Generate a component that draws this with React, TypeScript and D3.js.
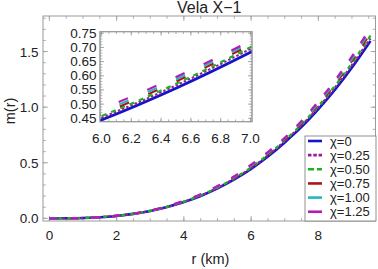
import React, { useEffect, useRef } from 'react';
// @ts-ignore
import * as d3 from 'd3';

// radius grid (km) and mass profiles
const radius = [0, 0.5, 1, 1.5, 2, 2.5, 3, 3.5, 4, 4.5, 5, 5.5, 6, 6.5, 7, 7.5, 8, 8.5, 9, 9.55];
const massChi000 = [0, 0.0005, 0.0032, 0.0098, 0.0217, 0.040, 0.066, 0.101, 0.146, 0.201, 0.269, 0.350, 0.444, 0.556, 0.683, 0.822, 0.982, 1.159, 1.356, 1.595];
const massChi025 = [0, 0.0005, 0.0032, 0.0099, 0.0220, 0.0406, 0.067, 0.1025, 0.148, 0.204, 0.274, 0.357, 0.452, 0.566, 0.695, 0.836, 0.998, 1.178, 1.379, 1.619];
const massChi050 = [0, 0.0005, 0.0033, 0.0101, 0.0224, 0.0412, 0.068, 0.104, 0.150, 0.207, 0.277, 0.361, 0.458, 0.572, 0.701, 0.845, 1.010, 1.194, 1.397, 1.643];
const massChi075 = [0, 0.0005, 0.0033, 0.0102, 0.0227, 0.0418, 0.069, 0.1055, 0.1526, 0.210, 0.281, 0.366, 0.465, 0.580, 0.710, 0.856, 1.023, 1.209, 1.416, 1.667];
const massChi100 = [0, 0.0005, 0.0034, 0.0104, 0.0230, 0.0424, 0.070, 0.107, 0.1548, 0.213, 0.285, 0.372, 0.473, 0.588, 0.718, 0.866, 1.036, 1.225, 1.435, 1.691];
const massChi125 = [0, 0.0005, 0.0034, 0.0105, 0.0233, 0.043, 0.071, 0.1086, 0.157, 0.216, 0.290, 0.378, 0.482, 0.596, 0.724, 0.876, 1.050, 1.242, 1.456, 1.715];

const chiLabels = ['χ=0', 'χ=0.25', 'χ=0.50', 'χ=0.75', 'χ=1.00', 'χ=1.25'];
const xTicks = [0, 2, 4, 6, 8];
const yTicks = [0, 0.5, 1, 1.5];
const insetXTicks = [6.0, 6.2, 6.4, 6.6, 6.8, 7.0];
const insetYTicks = [0.45, 0.5, 0.55, 0.6, 0.65, 0.7, 0.75];

const seriesStyle = [
	{ color: '#1414c8', dash: null, insetDash: null, legendDash: null },
	{ color: '#9b1a9b', dash: '2.5,2', insetDash: '2.5,2', legendDash: '3.5,1.8' },
	{ color: '#1cb41c', dash: '4,5', insetDash: '5,5', legendDash: '6,3' },
	{ color: '#b01414', dash: '8,13', insetDash: '10,21', legendDash: null },
	{ color: '#22b8c2', dash: '8,13', insetDash: '10,21', legendDash: null },
	{ color: '#b41ab4', dash: '8,13', insetDash: '10,21', legendDash: null },
];

const FONT = 'Liberation Sans, Arial, sans-serif';
const FRAME = '#9a9a9a';
const TEXT = '#222';

const VelaMassChart: React.FC = () => {
	const svgRef = useRef<SVGSVGElement | null>(null);

	useEffect(() => {
		if (svgRef.current == null) return;
		const svg = d3.select(svgRef.current);
		svg.selectAll('*').remove();

		const series = [massChi000, massChi025, massChi050, massChi075, massChi100, massChi125];

		const xScale = d3.scaleLinear().domain([-0.19, 9.7]).range([43, 375.5]);
		const yScale = d3.scaleLinear().domain([-0.024, 1.82]).range([221, 16]);

		const [x0, x1] = xScale.range();

		// frame + inward ticks on all four sides
		const drawFrame = (g: any, xs: any, ys: any, xMajor: number[], xMinor: number[], yMajor: number[], yMinor: number[], maj: number, min: number) => {
			const [l, r] = xs.range();
			const [b, t] = ys.range();
			g.append('rect').attr('x', l).attr('y', t).attr('width', r - l).attr('height', b - t)
				.attr('fill', 'white').attr('stroke', FRAME).attr('stroke-width', 1);
			const tk = g.append('g').attr('stroke', FRAME).attr('stroke-width', 0.8);
			const vt = (v: number, len: number) => {
				tk.append('line').attr('x1', xs(v)).attr('x2', xs(v)).attr('y1', b).attr('y2', b - len);
				tk.append('line').attr('x1', xs(v)).attr('x2', xs(v)).attr('y1', t).attr('y2', t + len);
			};
			const ht = (v: number, len: number) => {
				tk.append('line').attr('y1', ys(v)).attr('y2', ys(v)).attr('x1', l).attr('x2', l + len);
				tk.append('line').attr('y1', ys(v)).attr('y2', ys(v)).attr('x1', r).attr('x2', r - len);
			};
			xMinor.forEach(v => vt(v, min));
			xMajor.forEach(v => vt(v, maj));
			yMinor.forEach(v => ht(v, min));
			yMajor.forEach(v => ht(v, maj));
		};

		const mainG = svg.append('g');
		drawFrame(mainG, xScale, yScale, xTicks, d3.range(0, 9.6, 0.5), yTicks,
			d3.range(0, 1.81, 0.1), 5, 2.8);

		mainG.append('g').selectAll('text').data(xTicks).join('text')
			.attr('x', (d: number) => xScale(d)).attr('y', 240)
			.attr('text-anchor', 'middle').attr('font-size', 13.5)
			.text((d: number) => String(d));
		mainG.append('g').selectAll('text').data(yTicks).join('text')
			.attr('x', 38.5).attr('y', (d: number) => yScale(d) + 5)
			.attr('text-anchor', 'end').attr('font-size', 13.5)
			.text((d: number) => d.toFixed(1));

		const line = (xs: any, ys: any, vals: number[]) => d3.line<number>()
			.x((_: number, i: number) => xs(radius[i]))
			.y((d: number) => ys(d))
			.curve(d3.curveMonotoneX)(vals);

		series.forEach((vals, i) => {
			mainG.append('path')
				.attr('d', line(xScale, yScale, vals))
				.attr('fill', 'none')
				.attr('stroke', seriesStyle[i].color)
				.attr('stroke-width', i === 0 ? 2.6 : 2.3)
				.attr('stroke-dasharray', seriesStyle[i].dash);
		});

		// inset
		const ixScale = d3.scaleLinear().domain([5.99, 7.01]).range([100, 252]);
		const iyScale = d3.scaleLinear().domain([0.438, 0.7556]).range([121.7, 31.7]);
		const insetG = svg.append('g');
		drawFrame(insetG, ixScale, iyScale, insetXTicks, d3.range(6, 7.01, 0.05), insetYTicks,
			d3.range(0.44, 0.755, 0.01), 4, 2.3);

		svg.append('defs').append('clipPath').attr('id', 'insetClip')
			.append('rect').attr('x', 100).attr('y', 31.7).attr('width', 152).attr('height', 90);
		const insetLines = insetG.append('g').attr('clip-path', 'url(#insetClip)');
		series.forEach((vals, i) => {
			insetLines.append('path')
				.attr('d', line(ixScale, iyScale, vals))
				.attr('fill', 'none')
				.attr('stroke', seriesStyle[i].color)
				.attr('stroke-width', i === 0 ? 2.8 : 2.1)
				.attr('stroke-dasharray', seriesStyle[i].insetDash);
		});
		insetG.append('rect').attr('x', 100).attr('y', 31.7).attr('width', 152).attr('height', 90)
			.attr('fill', 'none').attr('stroke', FRAME).attr('stroke-width', 1);

		insetG.append('g').selectAll('text').data(insetXTicks).join('text')
			.attr('x', (d: number) => ixScale(d)).attr('y', 142.5)
			.attr('text-anchor', 'middle').attr('font-size', 13.5)
			.text((d: number) => d.toFixed(1));
		insetG.append('g').selectAll('text').data(insetYTicks).join('text')
			.attr('x', 96.5).attr('y', (d: number) => iyScale(d) + 4.5)
			.attr('text-anchor', 'end').attr('font-size', 13.5)
			.text((d: number) => d.toFixed(2));

		// legend
		const lg = svg.append('g');
		lg.append('rect').attr('x', 305).attr('y', 136).attr('width', 71).attr('height', 85)
			.attr('fill', 'white').attr('stroke', '#777').attr('stroke-width', 0.8);
		chiLabels.forEach((lab, i) => {
			const cy = 141 + i * 14.15;
			lg.append('line').attr('x1', 308).attr('x2', 322).attr('y1', cy).attr('y2', cy)
				.attr('stroke', seriesStyle[i].color).attr('stroke-width', 2.6)
				.attr('stroke-dasharray', seriesStyle[i].legendDash);
			lg.append('text').attr('x', 330).attr('y', cy + 4.6)
				.attr('font-size', 13).text(lab);
		});

		// titles
		svg.append('text').attr('x', (x0 + x1) / 2).attr('y', 13.3)
			.attr('text-anchor', 'middle').attr('font-size', 16).text('Vela X\u22121');
		svg.append('text').attr('x', 210.5).attr('y', 264)
			.attr('text-anchor', 'middle').attr('font-size', 14.5).text('r (km)');
		svg.append('text').attr('transform', 'translate(15,111)rotate(-90)')
			.attr('text-anchor', 'middle').attr('font-size', 14.5).text('m(r)');

		svg.selectAll('text').attr('font-family', FONT).attr('fill', TEXT);
	}, []);

	return (
		<svg ref={svgRef} width={378} height={269}
			style={{ position: 'absolute', left: 0, top: 0, background: 'white' }}></svg>
	);
};

export default function App() {
	return <VelaMassChart />;
}
